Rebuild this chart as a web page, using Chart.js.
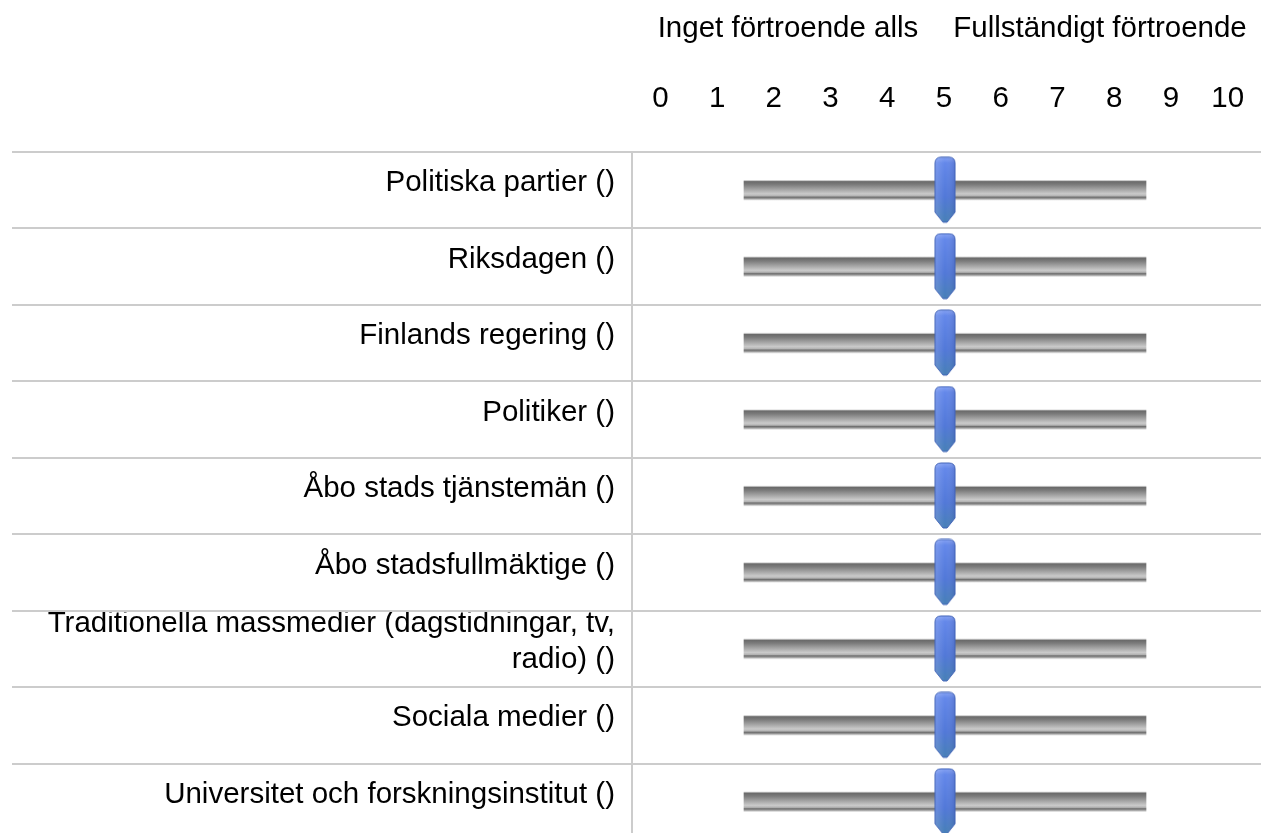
<!DOCTYPE html>
<html>
<head>
<meta charset="utf-8">
<script src="https://cdn.jsdelivr.net/npm/chart.js@4"></script>
<style>
  html, body { margin: 0; padding: 0; background: #fff; overflow: hidden; }
  #chart { display: block; width: 1261px; height: 845px; }
</style>
</head>
<body>
<canvas id="chart" width="1261" height="845"></canvas>
<script>
// survey rows (all sliders sit at their default position)
const categories = [
    'Politiska partier ()',
    'Riksdagen ()',
    'Finlands regering ()',
    'Politiker ()',
    'Åbo stads tjänstemän ()',
    'Åbo stadsfullmäktige ()',
    ['Traditionella massmedier (dagstidningar, tv,', 'radio) ()'],
    'Sociala medier ()',
    'Universitet och forskningsinstitut ()'
];
const handleValues = [5, 5, 5, 5, 5, 5, 5, 5, 5];
const tickLabels = ['0', '1', '2', '3', '4', '5', '6', '7', '8', '9', '10'];
const headerLabels = ['Inget förtroende alls', 'Fullständigt förtroende'];
const sliderMin = 0;
const sliderMax = 10;

const FONT = { family: "'Liberation Sans', Arial, sans-serif", size: 29.5 };

// the slider knob: rounded top, pointed bottom, blue
function makeHandle() {
    const c = document.createElement('canvas');
    c.width = 22;
    c.height = 68;
    const g = c.getContext('2d');
    g.beginPath();
    g.moveTo(1, 56);
    g.lineTo(1, 7);
    g.quadraticCurveTo(1, 1, 7, 1);
    g.lineTo(15, 1);
    g.quadraticCurveTo(21, 1, 21, 7);
    g.lineTo(21, 56);
    g.lineTo(13, 66);
    g.lineTo(9, 66);
    g.closePath();
    const v = g.createLinearGradient(0, 0, 0, 68);
    v.addColorStop(0, '#8aa6f5');
    v.addColorStop(0.1, '#6387ea');
    v.addColorStop(0.6, '#5178d8');
    v.addColorStop(1, '#4680b4');
    g.fillStyle = v;
    g.fill();
    const h = g.createLinearGradient(0, 0, 22, 0);
    h.addColorStop(0, 'rgba(255,255,255,0.18)');
    h.addColorStop(0.5, 'rgba(255,255,255,0)');
    h.addColorStop(1, 'rgba(0,0,40,0.15)');
    g.fillStyle = h;
    g.fill();
    g.strokeStyle = '#4264b8';
    g.lineWidth = 1;
    g.stroke();
    return c;
}

// gray metal look of the slider track
function trackFill(context) {
    const chart = context.chart;
    const y = chart.scales.y;
    if (!y || context.dataIndex === undefined) return '#aaaaaa';
    const cy = y.getPixelForValue(context.dataIndex);
    if (!Number.isFinite(cy)) return '#aaaaaa';
    const grad = chart.ctx.createLinearGradient(0, cy - 10, 0, cy + 10);
    grad.addColorStop(0, '#e4e4e4');
    grad.addColorStop(0.07, '#6a6a6a');
    grad.addColorStop(0.22, '#7c7c7c');
    grad.addColorStop(0.68, '#cacaca');
    grad.addColorStop(0.78, '#b4b4b4');
    grad.addColorStop(0.85, '#6e6e6e');
    grad.addColorStop(0.92, '#9a9a9a');
    grad.addColorStop(1, '#ececec');
    return grad;
}

// row separators across the whole width
const rowLines = {
    id: 'rowLines',
    beforeDatasetsDraw(chart) {
        const y = chart.scales.y;
        const ctx = chart.ctx;
        ctx.save();
        ctx.strokeStyle = '#cccccc';
        ctx.lineWidth = 2;
        for (let i = 0; i <= categories.length; i++) {
            const yy = Math.round(y.getPixelForValue(i - 0.5));
            ctx.beginPath();
            ctx.moveTo(12, yy);
            ctx.lineTo(chart.width, yy);
            ctx.stroke();
        }
        ctx.restore();
    }
};

// keep the axes from reserving extra room for label overflow
function noPadX(h) {
    return function (scale) {
        scale.height = h;
        scale.paddingLeft = 0;
        scale.paddingRight = 0;
    };
}

const ctx = document.getElementById('chart').getContext('2d');
new Chart(ctx, {
    type: 'bar',
    data: {
        labels: categories,
        datasets: [
            {
                type: 'line',
                label: 'Värde',
                data: handleValues,
                indexAxis: 'y',
                xAxisID: 'xs',
                yAxisID: 'y',
                showLine: false,
                pointStyle: makeHandle(),
                order: 0
            },
            {
                label: 'Skala',
                data: categories.map(() => [sliderMin, sliderMax]),
                xAxisID: 'xs',
                yAxisID: 'y',
                backgroundColor: trackFill,
                borderWidth: 0,
                barThickness: 20,
                order: 1
            }
        ]
    },
    options: {
        indexAxis: 'y',
        responsive: false,
        animation: false,
        devicePixelRatio: 1,
        layout: { padding: { top: 9, left: 0, right: 0, bottom: 0 } },
        plugins: {
            legend: { display: false },
            tooltip: { enabled: false }
        },
        scales: {
            y: {
                type: 'category',
                position: 'left',
                offset: true,
                grid: { display: false, drawTicks: true, tickLength: 17 },
                border: { display: true, color: '#cccccc', width: 2 },
                ticks: { color: '#000', font: FONT, padding: 0, labelOffset: -7, autoSkip: false },
                afterFit(scale) {
                    scale.width = 632;
                    scale.paddingTop = 0;
                    scale.paddingBottom = 0;
                }
            },
            x: {
                type: 'category',
                position: 'top',
                labels: tickLabels,
                offset: true,
                weight: 0,
                grid: { display: false, drawTicks: true, tickLength: 35 },
                border: { display: false },
                ticks: { color: '#000', font: FONT, padding: 0, maxRotation: 0, autoSkip: false },
                afterFit: noPadX(73)
            },
            xh: {
                type: 'category',
                position: 'top',
                labels: headerLabels,
                offset: true,
                weight: 1,
                grid: { display: false, drawTicks: true, tickLength: 32 },
                border: { display: false },
                ticks: { color: '#000', font: FONT, padding: 0, maxRotation: 0, autoSkip: false },
                afterFit: noPadX(70)
            },
            xs: {
                type: 'linear',
                display: false,
                // slider track spans 0..10 inside the plot, narrower than the number row
                min: -2.786,
                max: 12.736
            }
        }
    },
    plugins: [rowLines]
});
</script>
</body>
</html>
